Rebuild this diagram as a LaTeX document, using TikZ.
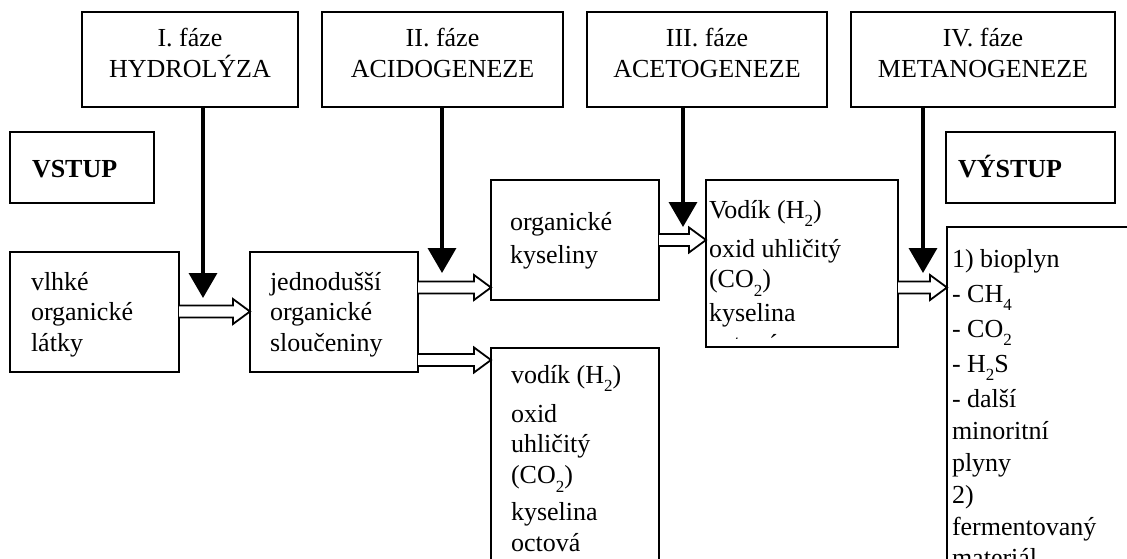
\documentclass[tikz,border=0pt]{standalone}
\usepackage{fontspec}
\setmainfont{Liberation Serif}
\usetikzlibrary{arrows.meta,calc}

% lowered subscript, set the way a word processor does it
\newcommand\dn[1]{\raisebox{-8.5pt}{\fontsize{17}{17}\selectfont #1}}
% one line of a left-aligned stack, and extra space between lines
\newcommand\lin[1]{\hbox{#1}}
\newcommand\gap[1]{\vskip#1pt}
% two centred lines, baseline on the first one
\newcommand\twolines[2]{\vtop{\halign{\hfil##\hfil\cr #1\cr #2\cr}}}
% open block arrow between two boxes at a given height
\newcommand\hollowarrow[3]{%
  \draw[hollow] let \p1=(#1.east |- 0,#3), \p2=(#2.west |- 0,#3) in
    (\x1,\y1-6pt) -- (\x2-17pt,\y1-6pt) -- (\x2-17pt,\y1-12.5pt) -- (\x2,\y1)
    -- (\x2-17pt,\y1+12.5pt) -- (\x2-17pt,\y1+6pt) -- (\x1,\y1+6pt);}

\tikzset{
  box/.style={draw, line width=2pt, inner sep=0pt, outer sep=0pt},
  txt/.style={inner sep=0pt, outer sep=0pt, font=\fontsize{26}{30.5}\selectfont},
  down/.style={line width=3.5pt, -{Triangle[length=25pt,width=28pt]}},
  hollow/.style={line width=1.8pt, fill=white, line join=miter},
}

\begin{document}
\begin{tikzpicture}[x=1pt,y=-1pt]
\useasboundingbox (0,0) rectangle (1127,559);
\fill[white] (0,0) rectangle (1127,559);
\clip (0,0) rectangle (1127,559);

% phase headers
\node[box, minimum width=216pt, minimum height=95pt, anchor=north west] (hI)   at (82,12)  {};
\node[box, minimum width=241pt, minimum height=95pt, anchor=north west] (hII)  at (322,12) {};
\node[box, minimum width=240pt, minimum height=95pt, anchor=north west] (hIII) at (587,12) {};
\node[box, minimum width=264pt, minimum height=95pt, anchor=north west] (hIV)  at (851,12) {};
\node[txt, anchor=base] (hI-t)   at (190,47)   {\twolines{I. fáze}{HYDROLÝZA}};
\node[txt, anchor=base] (hII-t)  at (442.5,47) {\twolines{II. fáze}{ACIDOGENEZE}};
\node[txt, anchor=base] (hIII-t) at (707,47)   {\twolines{III. fáze}{ACETOGENEZE}};
\node[txt, anchor=base] (hIV-t)  at (983,47)   {\twolines{IV. fáze}{METANOGENEZE}};

% input / output labels
\node[box, minimum width=144pt, minimum height=71pt, anchor=north west] (in)  at (10,132)  {};
\node[box, minimum width=169pt, minimum height=71pt, anchor=north west] (out) at (946,132) {};
\node[txt, anchor=base west] (in-t)  at (32,177)  {\textbf{VSTUP}};
\node[txt, anchor=base west] (out-t) at (958,177) {\textbf{VÝSTUP}};

% process boxes
\node[box, minimum width=169pt, minimum height=120pt, anchor=north west] (wet)  at (10,252)  {};
\node[box, minimum width=168pt, minimum height=120pt, anchor=north west] (simp) at (250,252) {};
\node[box, minimum width=168pt, minimum height=120pt, anchor=north west] (acid) at (491,180) {};
\node[box, minimum width=168pt, minimum height=260pt, anchor=north west] (gas)  at (491,348) {};
\node[box, minimum width=192pt, minimum height=167pt, anchor=north west] (hyd)  at (706,180) {};
\node[box, minimum width=200pt, minimum height=360pt, anchor=north west] (bio)  at (947,227) {};

\node[txt, anchor=base west] (wet-t)  at (31,290)  {\vtop{\lin{vlhké}\lin{organické}\lin{látky}}};
\node[txt, anchor=base west] (simp-t) at (270,290) {\vtop{\lin{jednodušší}\lin{organické}\lin{sloučeniny}}};
\node[txt, anchor=base west] (acid-t) at (510,230) {\vtop{\lin{organické}\gap{2.5}\lin{kyseliny}}};
\node[txt, anchor=base west] (gas-t)  at (511,383) {\vtop{\lin{vodík (H\dn{2})}\gap{8.5}\lin{oxid}\lin{uhličitý}\gap{0.5}\lin{(CO\dn{2})}\gap{6.5}\lin{kyselina}\gap{0.5}\lin{octová}}};
\begin{scope}
  \clip (707,181) rectangle (897,338.5);
  \node[txt, anchor=base west] (hyd-t) at (709,218) {\vtop{\lin{Vodík (H\dn{2})}\gap{8.5}\lin{oxid uhličitý}\lin{(CO\dn{2})}\gap{3.5}\lin{kyselina}\gap{0.5}\lin{octová}}};
\end{scope}
\node[txt, anchor=base west] (bio-t) at (952,267) {\vtop{\lin{1) bioplyn}\gap{4.5}\lin{- CH\dn{4}}\gap{4.5}\lin{- CO\dn{2}}\gap{4.5}\lin{- H\dn{2}S}\gap{4.5}\lin{- další}\gap{1.5}\lin{minoritní}\gap{1.5}\lin{plyny}\gap{1.5}\lin{2)}\gap{2}\lin{fermentovaný}\gap{0.5}\lin{materiál}}};

% phase arrows
\coordinate (tipI)   at (203,298);
\coordinate (tipII)  at (442,273);
\coordinate (tipIII) at (683,227);
\coordinate (tipIV)  at (923,273);
\draw[down] (hI.south -| tipI) -- (tipI);
\draw[down] (hII.south -| tipII) -- (tipII);
\draw[down] (hIII.south -| tipIII) -- (tipIII);
\draw[down] (hIV.south -| tipIV) -- (tipIV);

% material flow
\hollowarrow{wet}{simp}{311.5}
\hollowarrow{simp}{acid}{287.5}
\hollowarrow{simp}{gas}{360}
\hollowarrow{acid}{hyd}{240}
\hollowarrow{hyd}{bio}{287.5}
\end{tikzpicture}
\end{document}
